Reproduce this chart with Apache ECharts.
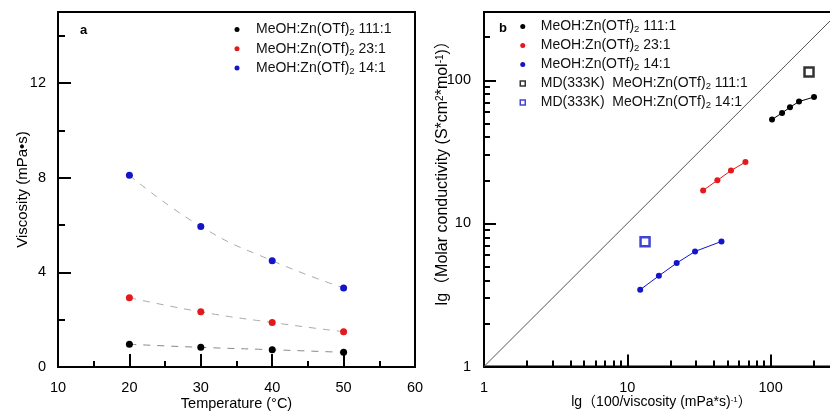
<!DOCTYPE html>
<html><head><meta charset="utf-8">
<script src="https://cdn.jsdelivr.net/npm/echarts@6/dist/echarts.min.js"></script>
<style>html,body{margin:0;padding:0;background:#fff}#c{width:830px;height:413px}</style>
</head><body><div id="c"></div>
<script>
// ---------- Panel a data ----------
const temps = [20, 30, 40, 50];
const visc111 = [0.96, 0.83, 0.73, 0.62];
const visc23 = [2.93, 2.33, 1.88, 1.49];
const visc14 = [8.10, 5.94, 4.49, 3.34];
const aYMinorTicks = [2, 6, 10, 14];

// ---------- Panel b data ----------
const x111 = [102.3, 120.2, 136.5, 157.8, 200.8];
const y111 = [53.2, 59.1, 64.8, 71.0, 76.4];
const x23 = [33.8, 42.5, 52.9, 66.7];
const y23 = [17.0, 20.0, 23.4, 26.8];
const x14 = [12.3, 16.6, 22.1, 29.7, 45.4];
const y14 = [3.44, 4.30, 5.28, 6.37, 7.48];
const md111 = [[185.3, 114.3]];
const md14 = [[13.3, 7.43]];
const diagonal = [[1, 1], [300, 300]];
const logMajorLabels = [1, 10, 100];
const logMinorTicks = [2, 3, 4, 5, 6, 7, 8, 9, 20, 30, 40, 50, 60, 70, 80, 90, 200];

const names = ['MeOH:Zn(OTf)2 111:1', 'MeOH:Zn(OTf)2 23:1', 'MeOH:Zn(OTf)2 14:1'];
const mdNames = ['MD(333K)  MeOH:Zn(OTf)2 111:1', 'MD(333K)  MeOH:Zn(OTf)2 14:1'];
const C_BLACK = '#000000', C_RED = '#e3191c', C_BLUE = '#1414c8';
const FONT = "'Liberation Sans', Arial, 'Noto Sans CJK SC', sans-serif";

const zip = (a, b) => a.map((v, i) => [v, b[i]]);

function legendFmt(name) {
  const i = name.indexOf('(OTf)2');
  return '{g| }{t|' + name.slice(0, i + 5) + '}{s|2}{t|' + name.slice(i + 6) + '}';
}
function legendRich(gap) {
  return {
    g: { width: gap },
    t: { fontSize: 14, lineHeight: 16, color: '#111', fontFamily: FONT },
    s: { fontSize: 9.5, lineHeight: 10, verticalAlign: 'bottom', color: '#111', fontFamily: FONT }
  };
}
const isPow10 = v => Math.abs(Math.log10(v) - Math.round(Math.log10(v))) < 1e-6 && logMajorLabels.indexOf(Math.round(v)) >= 0;

const labelStyle = { color: '#000', fontSize: 14.5, fontFamily: FONT, margin: 10 };
function nameStyle(size, extra) {
  return Object.assign({ color: '#000', fontSize: size, fontFamily: FONT,
    rich: { sup: { fontSize: Math.round(size * 0.6), verticalAlign: 'top', lineHeight: size - 2, color: '#000', fontFamily: FONT } } }, extra || {});
}

const chart = echarts.init(document.getElementById('c'), null, { renderer: 'canvas' });
chart.setOption({
  animation: false,
  textStyle: { fontFamily: FONT },
  title: [
    { text: 'a', left: 75, top: 19, textStyle: { fontSize: 13, fontWeight: 'bold', color: '#000', fontFamily: FONT } },
    { text: 'b', left: 494, top: 17, textStyle: { fontSize: 13, fontWeight: 'bold', color: '#000', fontFamily: FONT } }
  ],
  grid: [
    { left: 58, top: 12, right: 415, bottom: 46, show: true, borderColor: '#000', borderWidth: 2,
      backgroundColor: 'transparent', outerBoundsMode: 'none' },
    { left: 484, top: 12, right: -9, bottom: 46.5, show: true, borderColor: '#000', borderWidth: 2,
      backgroundColor: 'transparent', outerBoundsMode: 'none' }
  ],
  legend: [
    {
      left: 229.5, top: 17.5, orient: 'vertical', itemWidth: 5, itemHeight: 5, itemGap: 4.3,
      icon: 'circle', data: names, formatter: legendFmt,
      textStyle: { rich: legendRich(11.5) }
    },
    {
      left: 514.5, top: 14.5, orient: 'vertical', itemWidth: 5, itemHeight: 5, itemGap: 4.0,
      data: [
        { name: names[0], icon: 'circle' },
        { name: names[1], icon: 'circle' },
        { name: names[2], icon: 'circle' },
        { name: mdNames[0], icon: 'rect', itemStyle: { color: '#fff', borderColor: C_BLACK, borderWidth: 1.5 } },
        { name: mdNames[1], icon: 'rect', itemStyle: { color: '#fff', borderColor: C_BLUE, borderWidth: 1.5 } }
      ],
      formatter: legendFmt,
      textStyle: { rich: legendRich(10.5) }
    }
  ],
  xAxis: [
    { // 0: panel a temperature
      gridIndex: 0, type: 'value', min: 10, max: 60, interval: 10,
      name: 'Temperature (°C)', nameLocation: 'middle', nameGap: 30, nameMoveOverlap: false, nameTextStyle: nameStyle(14.5),
      axisLine: { lineStyle: { color: '#000', width: 2 } },
      axisTick: { inside: true, length: 13, lineStyle: { color: '#000', width: 2 } },
      minorTick: { show: true, splitNumber: 2, length: 6, lineStyle: { color: '#000', width: 2 } },
      axisLabel: Object.assign({}, labelStyle, { margin: 14 }), splitLine: { show: false }
    },
    { // 1: panel b log x
      gridIndex: 1, type: 'log', logBase: 10, min: 1, max: 300,
      name: 'lg（100/viscosity (mPa*s){sup|-1}）', nameLocation: 'middle', nameGap: 29, nameMoveOverlap: false, nameTextStyle: nameStyle(14),
      axisLine: { lineStyle: { color: '#000', width: 2 } },
      axisTick: { inside: true, length: 12, lineStyle: { color: '#000', width: 2 } },
      axisLabel: Object.assign({}, labelStyle, { margin: 14, formatter: v => isPow10(v) ? String(Math.round(v)) : '' }),
      splitLine: { show: false }
    },
    { // 2: panel b minor ticks overlay (log10 space)
      gridIndex: 1, type: 'value', position: 'bottom', min: 0, max: Math.log10(300),
      axisLine: { show: false }, axisLabel: { show: false }, splitLine: { show: false },
      axisTick: { inside: true, length: 6, customValues: logMinorTicks.map(v => Math.log10(v)), lineStyle: { color: '#000', width: 2 } }
    }
  ],
  yAxis: [
    { // 0: panel a viscosity
      gridIndex: 0, type: 'value', min: 0, max: 15, interval: 4,
      name: 'Viscosity (mPa•s)', nameLocation: 'middle', nameGap: 28, nameMoveOverlap: false, nameTextStyle: nameStyle(15),
      axisLine: { lineStyle: { color: '#000', width: 2 } },
      axisTick: { inside: true, length: 13, lineStyle: { color: '#000', width: 2 } },
      axisLabel: Object.assign({}, labelStyle, { margin: 12, formatter: v => (v % 4 === 0 ? String(v) : '') }),
      splitLine: { show: false }
    },
    { // 1: panel b log y
      gridIndex: 1, type: 'log', logBase: 10, min: 1, max: 300,
      name: 'lg（Molar conductivity (S*cm{sup|2}*mol{sup|-1})）', nameLocation: 'middle', nameGap: 33, nameMoveOverlap: false,
      nameTextStyle: nameStyle(16, { padding: [0, 0, 0, 40] }),
      axisLine: { lineStyle: { color: '#000', width: 2 } },
      axisTick: { inside: true, length: 12, lineStyle: { color: '#000', width: 2 } },
      axisLabel: Object.assign({}, labelStyle, { margin: 13, formatter: v => isPow10(v) ? String(Math.round(v)) : '' }),
      splitLine: { show: false }
    },
    { // 2: panel a minor ticks overlay
      gridIndex: 0, type: 'value', position: 'left', min: 0, max: 15,
      axisLine: { show: false }, axisLabel: { show: false }, splitLine: { show: false },
      axisTick: { inside: true, length: 7, customValues: aYMinorTicks, lineStyle: { color: '#000', width: 2 } }
    },
    { // 3: panel b minor ticks overlay
      gridIndex: 1, type: 'value', position: 'left', min: 0, max: Math.log10(300),
      axisLine: { show: false }, axisLabel: { show: false }, splitLine: { show: false },
      axisTick: { inside: true, length: 6, customValues: logMinorTicks.map(v => Math.log10(v)), lineStyle: { color: '#000', width: 2 } }
    }
  ],
  series: [
    // panel a
    { name: names[0], type: 'line', xAxisIndex: 0, yAxisIndex: 0, data: zip(temps, visc111), smooth: true,
      symbol: 'circle', symbolSize: 7, itemStyle: { color: C_BLACK },
      lineStyle: { color: '#888', width: 1, type: [7, 7] }, z: 3 },
    { name: names[1], type: 'line', xAxisIndex: 0, yAxisIndex: 0, data: zip(temps, visc23), smooth: true,
      symbol: 'circle', symbolSize: 7, itemStyle: { color: C_RED },
      lineStyle: { color: '#aaa', width: 1, type: [7, 7] }, z: 3 },
    { name: names[2], type: 'line', xAxisIndex: 0, yAxisIndex: 0, data: zip(temps, visc14), smooth: true,
      symbol: 'circle', symbolSize: 7, itemStyle: { color: C_BLUE },
      lineStyle: { color: '#aaa', width: 1, type: [7, 7] }, z: 3 },
    // panel b
    { name: 'diag', type: 'line', xAxisIndex: 1, yAxisIndex: 1, data: diagonal, symbol: 'none',
      lineStyle: { color: '#555', width: 1 }, silent: true, z: 1 },
    { name: names[0], type: 'line', xAxisIndex: 1, yAxisIndex: 1, data: zip(x111, y111),
      symbol: 'circle', symbolSize: 6, itemStyle: { color: C_BLACK }, lineStyle: { color: C_BLACK, width: 1 }, z: 3 },
    { name: names[1], type: 'line', xAxisIndex: 1, yAxisIndex: 1, data: zip(x23, y23),
      symbol: 'circle', symbolSize: 6, itemStyle: { color: C_RED }, lineStyle: { color: C_RED, width: 1 }, z: 3 },
    { name: names[2], type: 'line', xAxisIndex: 1, yAxisIndex: 1, data: zip(x14, y14),
      symbol: 'circle', symbolSize: 6, itemStyle: { color: C_BLUE }, lineStyle: { color: C_BLUE, width: 1 }, z: 3 },
    { name: mdNames[0], type: 'scatter', xAxisIndex: 1, yAxisIndex: 1, data: md111,
      symbol: 'rect', symbolSize: 9, itemStyle: { color: '#fff', borderColor: C_BLACK, borderWidth: 2.5 }, z: 4 },
    { name: mdNames[1], type: 'scatter', xAxisIndex: 1, yAxisIndex: 1, data: md14,
      symbol: 'rect', symbolSize: 9, itemStyle: { color: '#fff', borderColor: C_BLUE, borderWidth: 2.5 }, z: 4 }
  ]
});
</script></body></html>
